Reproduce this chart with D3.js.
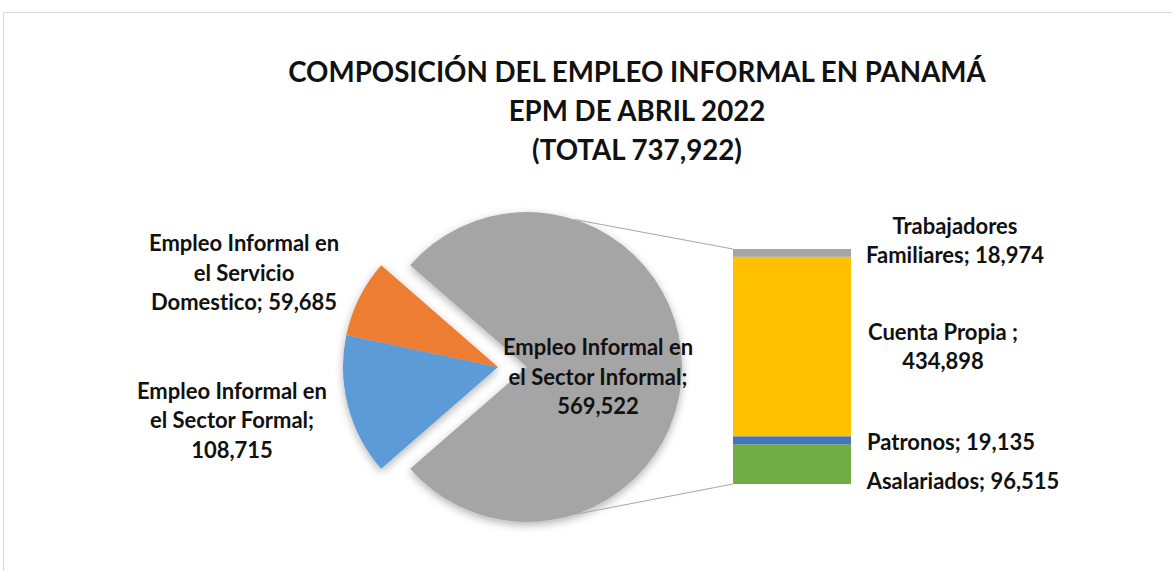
<!DOCTYPE html>
<html>
<head>
<meta charset="utf-8">
<script src="https://cdn.jsdelivr.net/npm/d3@7"></script>
<style>
  body { margin: 0; background: #fff; }
  svg { display: block; font-variant-ligatures: none; }
</style>
</head>
<body>
<div id="chart"></div>
<script>
// --- data ---
const titleLines = ["COMPOSICIÓN DEL EMPLEO INFORMAL EN PANAMÁ", "EPM DE ABRIL 2022", "(TOTAL 737,922)"];

const pieNames = ["Empleo Informal en el Sector Informal", "Empleo Informal en el Sector Formal", "Empleo Informal en el Servicio Domestico"];
const pieValues = [569522, 108715, 59685];
const pieColors = ["#a5a5a5", "#5b9bd5", "#ed7d31"];
// how each label is broken into lines ({v} = value)
const pieLabelLines = [
  ["Empleo Informal en", "el Sector Informal;", "{v}"],
  ["Empleo Informal en", "el Sector Formal;", "{v}"],
  ["Empleo Informal en", "el Servicio", "Domestico; {v}"]
];

const barNames = ["Asalariados", "Patronos", "Cuenta Propia", "Trabajadores Familiares"];
const barValues = [96515, 19135, 434898, 18974];
const barColors = ["#70ad47", "#4472c4", "#ffc000", "#a5a5a5"];
const barLabelLines = [
  ["Asalariados; {v}"],
  ["Patronos; {v}"],
  ["Cuenta Propia ;", "{v}"],
  ["Trabajadores", "Familiares; {v}"]
];

// --- layout ---
const width = 1172, height = 571;
const fmt = d3.format(",");
const font = "Lato, 'Open Sans', sans-serif";
const textColor = "#111";
const labelSize = 22;

const svg = d3.select("#chart").append("svg")
  .attr("width", width)
  .attr("height", height)
  .style("font-family", font);

svg.append("rect")
  .attr("x", 3.5).attr("y", 12.5)
  .attr("width", 1300).attr("height", 700)
  .attr("fill", "#fff")
  .attr("stroke", "#d9d9d9");

const defs = svg.append("defs");
const shadow = defs.append("filter").attr("id", "shadow")
  .attr("x", "-20%").attr("y", "-20%").attr("width", "140%").attr("height", "140%");
shadow.append("feDropShadow")
  .attr("dx", 0).attr("dy", 3)
  .attr("stdDeviation", 4)
  .attr("flood-color", "#000")
  .attr("flood-opacity", 0.3);

// title
svg.append("g")
  .attr("font-weight", "bold")
  .attr("font-size", 27.7)
  .attr("text-anchor", "middle")
  .attr("fill", textColor)
  .selectAll("text")
  .data(titleLines)
  .join("text")
  .attr("x", 637)
  .attr("y", (d, i) => 82 + i * 39)
  .text(d => d);

// pie
const cx = 498, cy = 367, r = 155, explode = 29;
const total = d3.sum(pieValues);
const mainAngle = pieValues[0] / total * 2 * Math.PI;
const pie = d3.pie().sort(null)
  .startAngle(Math.PI / 2 - mainAngle / 2)
  .endAngle(Math.PI / 2 - mainAngle / 2 + 2 * Math.PI);
const arcs = pie(pieValues);
const arc = d3.arc().innerRadius(0).outerRadius(r);

const offset = (d, i) => {
  if (i !== 0) return [0, 0];
  const a = (d.startAngle + d.endAngle) / 2;
  return [Math.sin(a) * explode, -Math.cos(a) * explode];
};

const pieG = svg.append("g")
  .attr("transform", `translate(${cx},${cy})`);

pieG.append("g")
  .attr("filter", "url(#shadow)")
  .selectAll("path")
  .data(arcs)
  .join("path")
  .attr("transform", (d, i) => `translate(${offset(d, i)})`)
  .attr("fill", (d, i) => pieColors[i])
  .attr("d", arc);

// bar of the main slice
const bar = { x: 733, w: 118, top: 249, bottom: 484 };
const y = d3.scaleLinear()
  .domain([0, d3.sum(barValues)])
  .range([bar.bottom, bar.top]);
const stack = d3.cumsum(barValues);
const segs = barValues.map((v, i) => ({ v, i, y0: stack[i] - v, y1: stack[i] }));

// connector lines
const mainOff = offset(arcs[0], 0);
const connA = 18 * Math.PI / 180;
const connectors = [
  { a: connA, y: y(d3.sum(barValues)) },
  { a: Math.PI - connA, y: y(0) }
];
svg.append("g")
  .attr("stroke", "#a6a6a6")
  .attr("stroke-width", 1)
  .selectAll("line")
  .data(connectors)
  .join("line")
  .attr("x1", d => cx + mainOff[0] + Math.sin(d.a) * r)
  .attr("y1", d => cy + mainOff[1] - Math.cos(d.a) * r)
  .attr("x2", bar.x)
  .attr("y2", d => d.y);

svg.append("g")
  .selectAll("rect")
  .data(segs)
  .join("rect")
  .attr("x", bar.x)
  .attr("width", bar.w)
  .attr("y", d => y(d.y1))
  .attr("height", d => y(d.y0) - y(d.y1))
  .attr("fill", d => barColors[d.i]);

// labels
function drawLabel(g, lines, value, x, yc, lh, anchor) {
  const t = g.append("text")
    .attr("text-anchor", anchor)
    .attr("font-weight", "bold")
    .attr("font-size", labelSize)
    .attr("fill", textColor);
  const n = lines.length;
  lines.forEach((ln, k) => {
    t.append("tspan")
      .attr("x", x)
      .attr("y", yc + (k - (n - 1) / 2) * lh)
      .attr("dy", "0.35em")
      .text(ln.replace("{v}", fmt(value)));
  });
}

const labelsG = svg.append("g");
// pie labels: anchored to each slice centroid with a per-label shift
const pieLabelShift = [[-6.5, 10], [-191, 34], [-184.6, -59.5]];
arcs.forEach((d, i) => {
  const c = arc.centroid(d);
  const o = offset(d, i);
  const lx = cx + o[0] + c[0] + pieLabelShift[i][0];
  const ly = cy + o[1] + c[1] + pieLabelShift[i][1];
  drawLabel(labelsG, pieLabelLines[i], d.value, lx, ly, 29.5, "middle");
});

// bar labels: at the middle of each segment, nudged apart
const barLabelShift = [[112, 17.5], [100, 2.5], [92, 0], [104, -12]];
segs.forEach(d => {
  const lx = bar.x + bar.w + barLabelShift[d.i][0];
  const ly = y((d.y0 + d.y1) / 2) + barLabelShift[d.i][1];
  drawLabel(labelsG, barLabelLines[d.i], d.v, lx, ly, 29, "middle");
});
</script>
</body>
</html>
